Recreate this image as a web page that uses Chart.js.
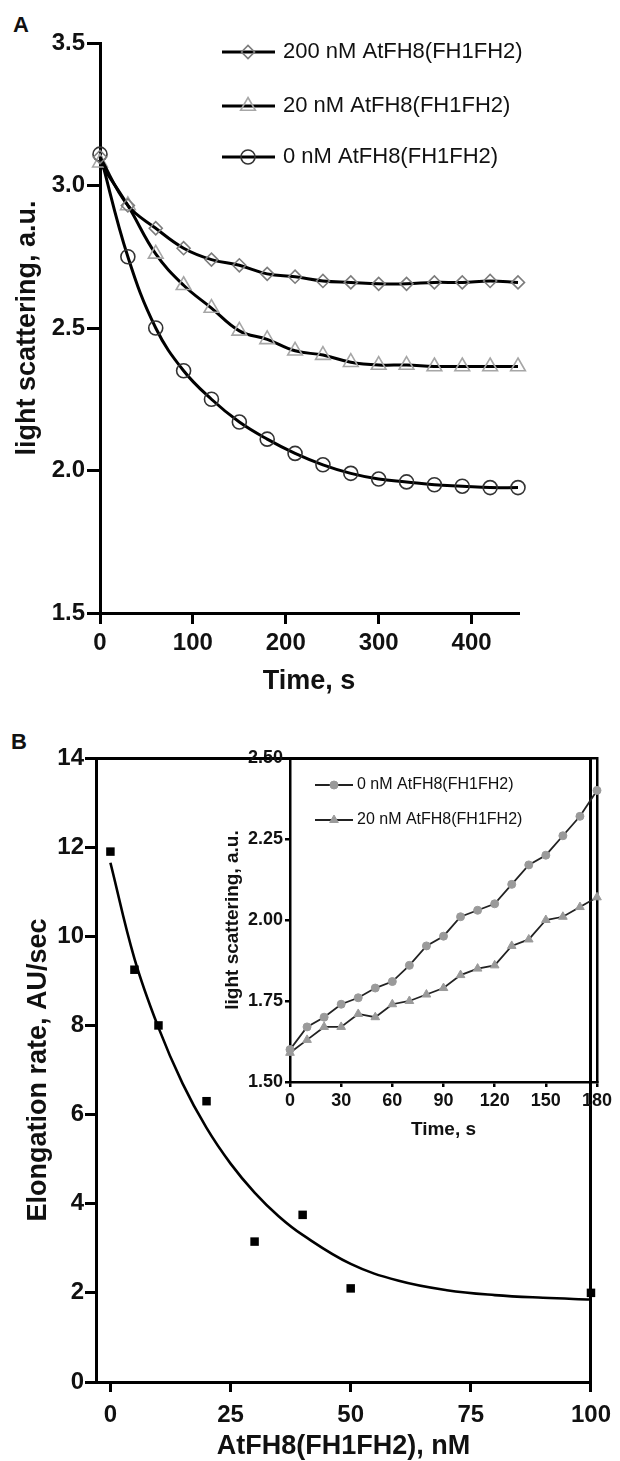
<!DOCTYPE html>
<html><head><meta charset="utf-8">
<script src="https://cdn.jsdelivr.net/npm/chart.js@4.4.1/dist/chart.umd.min.js"></script>
<style>
html,body{margin:0;padding:0;background:#fff;width:620px;height:1461px;overflow:hidden;}
canvas{position:absolute;}
.lbl{position:absolute;font:bold 22px "Liberation Sans",Arial,sans-serif;color:#111;line-height:22px;}
</style></head><body>
<div class="lbl" style="left:13px;top:14px">A</div>
<div class="lbl" style="left:11px;top:731px">B</div>
<canvas id="cA" width="620" height="720" style="left:0;top:0"></canvas>
<canvas id="cB" width="620" height="741" style="left:0;top:720px"></canvas>
<canvas id="cI" width="420" height="410" style="left:200px;top:740px"></canvas>
<script>
// ---------- Panel A data ----------
const timeA = [0,30,60,90,120,150,180,210,240,270,300,330,360,390,420,450];
const ls200 = [3.10,2.93,2.85,2.78,2.74,2.72,2.69,2.68,2.665,2.66,2.655,2.655,2.66,2.66,2.665,2.66];
const ls20  = [3.08,2.93,2.76,2.65,2.57,2.49,2.46,2.42,2.405,2.38,2.37,2.37,2.365,2.365,2.365,2.365];
const ls0   = [3.11,2.75,2.50,2.35,2.25,2.17,2.11,2.06,2.02,1.99,1.97,1.96,1.95,1.945,1.94,1.94];
const labelsA = ['200 nM AtFH8(FH1FH2)','20 nM AtFH8(FH1FH2)','0 nM AtFH8(FH1FH2)'];
const xTicksA = [0,100,200,300,400];
const yTicksA = [1.5,2.0,2.5,3.0,3.5];

// ---------- Panel B data ----------
const concB = [0,5,10,20,30,40,50,100];
const rateB = [11.9,9.25,8.0,6.3,3.15,3.75,2.1,2.0];
const fitX  = [0,5,10,15,20,25,30,35,40,50,60,70,80,90,100];
const fitY  = [11.65,9.5,7.95,6.7,5.7,4.9,4.25,3.72,3.3,2.65,2.27,2.06,1.95,1.89,1.85];
const xTicksB = [0,25,50,75,100];
const yTicksB = [0,2,4,6,8,10,12,14];

// ---------- Inset data ----------
const timeI = [0,10,20,30,40,50,60,70,80,90,100,110,120,130,140,150,160,170,180];
const lsI0  = [1.60,1.67,1.70,1.74,1.76,1.79,1.81,1.86,1.92,1.95,2.01,2.03,2.05,2.11,2.17,2.20,2.26,2.32,2.40];
const lsI20 = [1.59,1.63,1.67,1.67,1.71,1.70,1.74,1.75,1.77,1.79,1.83,1.85,1.86,1.92,1.94,2.00,2.01,2.04,2.07];
const labelsI = ['0 nM AtFH8(FH1FH2)','20 nM AtFH8(FH1FH2)'];
const xTicksI = [0,30,60,90,120,150,180];
const yTicksI = [1.50,1.75,2.00,2.25,2.50];

const FAM = '"Liberation Sans", Arial, Helvetica, sans-serif';
const INK = '#111';
const pts = (xs, ys) => xs.map((x,i)=>({x, y: ys[i]}));

function drawMarker(ctx, style, x, y, r, stroke, fill, lw){
  ctx.beginPath();
  if (style === 'circle') { ctx.arc(x, y, r, 0, Math.PI*2); }
  else if (style === 'triangle') {
    let a = 0;
    ctx.moveTo(x + Math.sin(a)*r, y - Math.cos(a)*r);
    a += 2*Math.PI/3; ctx.lineTo(x + Math.sin(a)*r, y - Math.cos(a)*r);
    a += 2*Math.PI/3; ctx.lineTo(x + Math.sin(a)*r, y - Math.cos(a)*r);
    ctx.closePath();
  } else if (style === 'rectRot') {
    ctx.moveTo(x - r, y); ctx.lineTo(x, y - r); ctx.lineTo(x + r, y); ctx.lineTo(x, y + r); ctx.closePath();
  }
  ctx.fillStyle = fill; ctx.fill();
  ctx.lineWidth = lw; ctx.strokeStyle = stroke; ctx.stroke();
}

function makeLegend(cfg){
  return {
    id: 'lineMarkerLegend',
    afterDraw(chart){
      const ctx = chart.ctx;
      ctx.save();
      chart.data.datasets.forEach((ds, i) => {
        if (!ds.label) return;
        const y = cfg.rows[i];
        ctx.beginPath(); ctx.moveTo(cfg.x1, y); ctx.lineTo(cfg.x2, y);
        ctx.lineWidth = cfg.lineWidth; ctx.strokeStyle = cfg.lineColor; ctx.stroke();
        drawMarker(ctx, ds.pointStyle, cfg.mx, y, ds.pointRadius, ds.pointBorderColor, ds.pointBackgroundColor, ds.pointBorderWidth);
        ctx.fillStyle = INK; ctx.font = cfg.font; ctx.textBaseline = 'middle'; ctx.textAlign = 'left';
        ctx.fillText(ds.label, cfg.tx, y);
      });
      ctx.restore();
    }
  };
}

function axis(o){
  return {
    type: 'linear', min: o.min, max: o.max, position: o.position,
    afterBuildTicks: sc => { sc.ticks = o.ticks.map(v => ({value: v})); },
    afterFit: sc => { if (o.width !== undefined) sc.width = o.width; if (o.height !== undefined) sc.height = o.height; },
    ticks: { display: true, autoSkip: false, maxRotation: 0, padding: o.pad, color: INK,
             font: {family: FAM, size: o.fs, weight: 'bold'},
             callback: o.fmt || (v => String(v)) },
    grid: { drawOnChartArea: false, drawTicks: true, tickLength: o.tl, tickWidth: o.lw, tickColor: '#000', color: '#000', lineWidth: o.lw },
    border: { display: true, color: '#000', width: o.lw },
    title: { display: true, text: o.title, color: INK,
             font: {family: FAM, size: o.tfs, weight: 'bold', lineHeight: 1},
             padding: o.tpad }
  };
}
function frame(position, lw, size){
  return {
    type: 'linear', position, display: true,
    afterFit: sc => { if (position === 'top') sc.height = size; else sc.width = size; },
    ticks: { display: false }, grid: { display: false },
    border: { display: true, color: '#000', width: lw }
  };
}
const base = { responsive: false, animation: false, events: [], devicePixelRatio: 1,
  plugins: { legend: { display: false }, tooltip: { enabled: false } } };

// ---------- Panel A ----------
new Chart(document.getElementById('cA'), {
  type: 'line',
  data: { datasets: [
    { label: labelsA[0], data: pts(timeA, ls200), borderColor: '#000', borderWidth: 3,
      pointStyle: 'rectRot', pointRadius: 6.5, pointBorderColor: '#7c7c7c', pointBackgroundColor: 'rgba(255,255,255,0)', pointBorderWidth: 1.6,
      tension: 0.4, clip: false },
    { label: labelsA[1], data: pts(timeA, ls20), borderColor: '#000', borderWidth: 3,
      pointStyle: 'triangle', pointRadius: 8.5, pointBorderColor: '#a6a6a6', pointBackgroundColor: 'rgba(255,255,255,0)', pointBorderWidth: 1.6,
      tension: 0.4, clip: false },
    { label: labelsA[2], data: pts(timeA, ls0), borderColor: '#000', borderWidth: 3,
      pointStyle: 'circle', pointRadius: 7, pointBorderColor: '#333', pointBackgroundColor: 'rgba(255,255,255,0)', pointBorderWidth: 1.6,
      tension: 0.4, clip: false }
  ]},
  options: Object.assign({}, base, {
    layout: { padding: { left: 0, right: 102, top: 43, bottom: 0 } },
    scales: {
      x: axis({min: 0, max: 450, position: 'bottom', ticks: xTicksA, height: 107, pad: 5, tl: 11, lw: 3, fs: 24,
               title: 'Time, s', tfs: 27, tpad: {top: 0, bottom: 24.5}}),
      y: axis({min: 1.5, max: 3.5, position: 'left', ticks: yTicksA, width: 100, pad: 2, tl: 13, lw: 3, fs: 24,
               fmt: v => v.toFixed(1), title: 'light scattering, a.u.', tfs: 27, tpad: {top: 14.5, bottom: 0}})
    }
  }),
  plugins: [makeLegend({rows: [52, 106, 157], x1: 222, x2: 275, mx: 248, tx: 283, lineWidth: 3, lineColor: '#000',
                        font: '22px ' + FAM})]
});

// ---------- Panel B main ----------
new Chart(document.getElementById('cB'), {
  type: 'line',
  data: { datasets: [
    { data: pts(fitX, fitY), borderColor: '#000', borderWidth: 2.6, pointRadius: 0,
      tension: 0.4, clip: false },
    { data: pts(concB, rateB), showLine: false, pointStyle: 'rect', pointRadius: 6,
      pointBackgroundColor: '#000', pointBorderColor: '#000', pointBorderWidth: 0, clip: false }
  ]},
  options: Object.assign({}, base, {
    layout: { padding: { left: 0, right: 23, top: 38, bottom: 0 } },
    scales: {
      x: axis({min: -3, max: 100, position: 'bottom', ticks: xTicksB, height: 79, pad: 9, tl: 10, lw: 3, fs: 24,
               title: 'AtFH8(FH1FH2), nM', tfs: 27, tpad: {top: 0, bottom: 0.5}}),
      y: axis({min: 0, max: 14, position: 'left', ticks: yTicksB, width: 96, pad: 1, tl: 11, lw: 3, fs: 24,
               title: 'Elongation rate, AU/sec', tfs: 27, tpad: {top: 25.5, bottom: 0}}),
      xTop: frame('top', 3, 0),
      yRight: frame('right', 3, 0)
    }
  })
});

// ---------- Inset ----------
new Chart(document.getElementById('cI'), {
  type: 'line',
  data: { datasets: [
    { label: labelsI[0], data: pts(timeI, lsI0), borderColor: '#222', borderWidth: 1.8, tension: 0,
      pointStyle: 'circle', pointRadius: 4, pointBackgroundColor: '#9a9a9a', pointBorderColor: '#9a9a9a', pointBorderWidth: 1, clip: false },
    { label: labelsI[1], data: pts(timeI, lsI20), borderColor: '#222', borderWidth: 1.8, tension: 0,
      pointStyle: 'triangle', pointRadius: 5, pointBackgroundColor: '#9a9a9a', pointBorderColor: '#9a9a9a', pointBorderWidth: 1, clip: false }
  ]},
  options: Object.assign({}, base, {
    layout: { padding: { left: 0, right: 23, top: 18, bottom: 0 } },
    scales: {
      x: axis({min: 0, max: 180, position: 'bottom', ticks: xTicksI, height: 68, pad: 3.5, tl: 5, lw: 2.5, fs: 18,
               title: 'Time, s', tfs: 19, tpad: {top: 0, bottom: 11}}),
      y: axis({min: 1.5, max: 2.5, position: 'left', ticks: yTicksI, width: 90, pad: 2, tl: 5, lw: 2.5, fs: 18,
               fmt: v => v.toFixed(2), title: 'light scattering, a.u.', tfs: 19, tpad: {top: 23.5, bottom: 0}}),
      xTop: frame('top', 2.5, 0),
      yRight: frame('right', 2.5, 0)
    }
  }),
  plugins: [makeLegend({rows: [45, 80], x1: 115, x2: 153, mx: 134, tx: 157, lineWidth: 1.8, lineColor: '#222',
                        font: '16px ' + FAM})]
});
</script>
</body></html>
